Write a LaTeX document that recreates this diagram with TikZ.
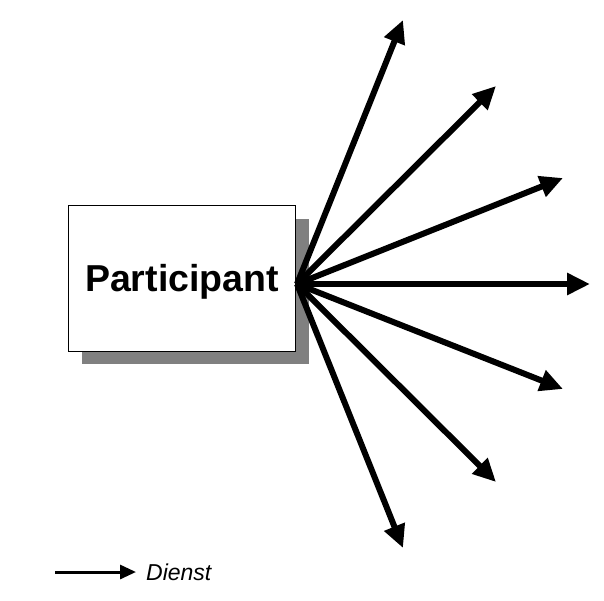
\documentclass[tikz,border=0pt]{standalone}
\usepackage{fontspec}
\setmainfont{Liberation Sans}
\usetikzlibrary{arrows.meta,positioning}
\definecolor{shadowgray}{RGB}{128,128,128}

\begin{document}
\begin{tikzpicture}[x=1pt,y=-1pt,>={Triangle[length=23pt,width=21pt]},every node/.style={inner sep=0pt}]
\useasboundingbox (0,0) rectangle (604,600);
\fill[shadowgray] (82,219) rectangle (309,364);
\node[draw,fill=white,line width=0.8pt,minimum width=227pt,minimum height=146pt,text depth=0pt,font=\bfseries\fontsize{37.5}{40}\selectfont] (part) at (182,278) {Participant};
\coordinate (hub) at (297,284);
\foreach \tx/\ty [count=\i] in {403/20,496/86,563/178,590/284,563/389,496/482,403/548}
  \coordinate (t\i) at (\tx,\ty);
\foreach \i in {1,...,7}
  \draw[->,line width=6pt] (hub) -- (t\i);
% legend
\coordinate (leg) at (55,572);
\node[font=\itshape\fontsize{23}{26}\selectfont,anchor=west] (dienst) at (146,572) {Dienst};
\draw[-{Triangle[length=16pt,width=14pt]},line width=3pt,shorten >=10pt] (leg) -- (dienst.west);
\end{tikzpicture}
\end{document}
